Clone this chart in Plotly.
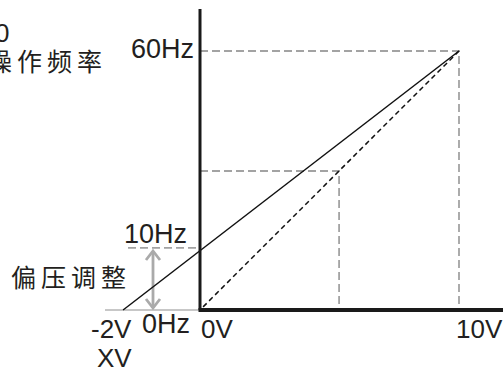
import plotly.graph_objects as go

# ---- data (schematic positions, in volts / hertz) ----
x_tick_labels = ["-2V", "0V", "10V"]
y_tick_labels = ["0Hz", "10Hz", "60Hz"]
v_bias_start = -2.97     # where the biased line meets 0 Hz (drawn position of "-2V")
v_zero = 0.0
v_mid = 5.37
v_max = 10.0
f_zero = 0.0
f_bias = 14.4            # drawn level of the "10Hz" mark
f_mid = 32.2
f_max = 60.0

solid_x = [v_bias_start, v_max]
solid_y = [f_zero, f_max]
dashed_x = [0.12, v_max]
dashed_y = [0.72, f_max]

# ---- scales ----
W, H = 503, 372
SX = 25.9     # px per volt
SY = 4.3167   # px per hertz
X0, Y0 = 200, 310  # pixel of origin
xr = [-X0 / SX, (W - X0) / SX]
yr = [-(H - Y0) / SY, Y0 / SY]

def px2x(p):
    return (p - X0) / SX

def py2y(p):
    return (Y0 - p) / SY

GRAY = "#a3a3a3"
TXT = "#231f20"
FONT = "Liberation Sans, Arial, sans-serif"
CJK = "Noto Sans CJK SC, sans-serif"
TS = "\u2009"

fig = go.Figure()

def line(xs, ys, color, width, dash="solid"):
    fig.add_trace(go.Scatter(x=xs, y=ys, mode="lines", hoverinfo="skip",
                             line=dict(color=color, width=width, dash=dash),
                             showlegend=False))

# gray guide lines
line([v_zero, v_max, v_max], [f_max, f_max, f_zero], GRAY, 1.8, "8px,4px")
line([v_zero, v_mid, v_mid], [f_mid, f_mid, f_zero], GRAY, 1.8, "8px,4px")
line([px2x(128), v_zero], [f_bias, f_bias], GRAY, 1.8, "8px,4px")
line([px2x(105), v_zero], [f_zero, f_zero], "#b5b5b5", 1.6)

# bias arrow (double chevron)
ax_ = px2x(153)
a_top = py2y(251)
a_bot = py2y(308)
hw = 7 / SX
hh = 9 / SY
line([ax_, ax_], [a_top, a_bot], "#aaaaaa", 2.8)
line([ax_ - hw, ax_, ax_ + hw], [a_top - hh, a_top, a_top - hh], "#aaaaaa", 2.8)
line([ax_ - hw, ax_, ax_ + hw], [a_bot + hh, a_bot, a_bot + hh], "#aaaaaa", 2.8)

# characteristic lines
line(solid_x, solid_y, "#111111", 1.5)
line(dashed_x, dashed_y, "#111111", 1.5, "5px,3.5px")

# axes
line([v_zero, v_zero], [f_zero, py2y(9)], "#1a1a1a", 3)
line([v_zero - 1.5 / SX, xr[1]], [f_zero, f_zero], "#1a1a1a", 4)

anns = [
    ("0", px2x(11), py2y(33), "right", FONT, 26),
    (TS.join("操作频率"), px2x(104), py2y(60), "right", CJK, 25),
    (y_tick_labels[2], px2x(196), py2y(49), "right", FONT, 27),
    (y_tick_labels[1], px2x(155), py2y(234), "center", FONT, 27),
    (TS.join("偏压调整"), px2x(9), py2y(276), "left", CJK, 25),
    (x_tick_labels[0], px2x(134), py2y(329), "right", FONT, 26),
    (y_tick_labels[0], px2x(166), py2y(324), "center", FONT, 27),
    (x_tick_labels[1], px2x(199), py2y(329), "left", FONT, 26),
    (x_tick_labels[2], px2x(454), py2y(329), "left", FONT, 26),
    ("XV", px2x(134), py2y(358), "right", FONT, 26),
]
for t, x, y, xa, fam, sz in anns:
    fig.add_annotation(x=x, y=y, xref="x", yref="y", text=t, showarrow=False,
                       xanchor=xa, yanchor="middle",
                       font=dict(family=fam, size=sz, color=TXT))

fig.update_layout(
    width=W, height=H, margin=dict(l=0, r=0, t=0, b=0),
    paper_bgcolor="white", plot_bgcolor="white",
    xaxis=dict(range=xr, visible=False, fixedrange=True),
    yaxis=dict(range=yr, visible=False, fixedrange=True),
)
fig.write_html("out.html", config={"displayModeBar": False},
               post_script="document.body.style.margin='0';document.body.style.overflow='hidden';")
